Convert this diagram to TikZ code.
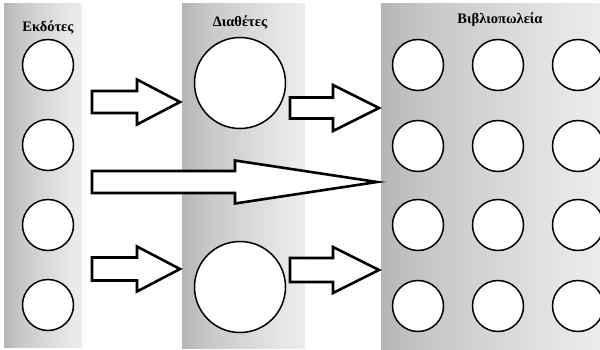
\documentclass[tikz,border=0pt]{standalone}
\usepackage{fontspec}
\setmainfont{Liberation Serif}
\pgfdeclarehorizontalshading{panelfade}{100bp}{color(0bp)=(black!52); color(12bp)=(black!38); color(35bp)=(black!22); color(65bp)=(black!10); color(100bp)=(white)}
\begin{document}
\begin{tikzpicture}[x=1pt,y=-1pt,
  panel/.style={draw=none,shading=panelfade},
  circ/.style={circle,draw=black,line width=1.5pt,fill=white,inner sep=0pt},
  smallcirc/.style={circ,minimum size=51pt},
  bigcirc/.style={circ,minimum size=91pt},
  blockarr/.style={draw=black,line width=2.6pt,fill=white,line join=miter},
  title/.style={font=\bfseries\fontsize{14.5}{16}\selectfont,inner sep=0pt}]
\useasboundingbox (0,0) rectangle (600,350);
% panels
\shade[panel] (4,4) rectangle (82,347);
\shade[panel] (182,4) rectangle (305,348);
\shade[panel] (381,4) rectangle (610,349);
% titles
\node[title] (t1) at (48,27) {Εκδότες};
\node[title] (t2) at (240,22) {Διαθέτες};
\node[title] (t3) at (500,20) {Βιβλιοπωλεία};
% publishers
\foreach \i/\y in {1/65,2/145,3/225,4/305}
  \node[smallcirc] (e\i) at (48,\y) {};
% distributors
\node[bigcirc] (d1) at (240,83) {};
\node[bigcirc] (d2) at (240,287) {};
% bookshops
\foreach \i/\y in {1/65,2/146,3/225,4/306}
  \foreach \j/\x in {1/418,2/498,3/578}
    \node[smallcirc] (b\i\j) at (\x,\y) {};
% block arrows
\newcommand\blkarrow[6]{% x0, xbase, xtip, yc, shaft half, head half
  \draw[blockarr] (#1,#4-#5) -- (#2,#4-#5) -- (#2,#4-#6) -- (#3,#4)
    -- (#2,#4+#6) -- (#2,#4+#5) -- (#1,#4+#5) -- cycle;}
\blkarrow{92}{137}{180}{102}{11}{22.5}
\blkarrow{290}{333}{379}{108}{10.5}{23}
\blkarrow{92}{235}{377}{182}{11}{21.5}
\blkarrow{92}{137}{180}{269}{11.5}{22.5}
\blkarrow{290}{333}{379}{270}{12}{23}
\end{tikzpicture}
\end{document}
